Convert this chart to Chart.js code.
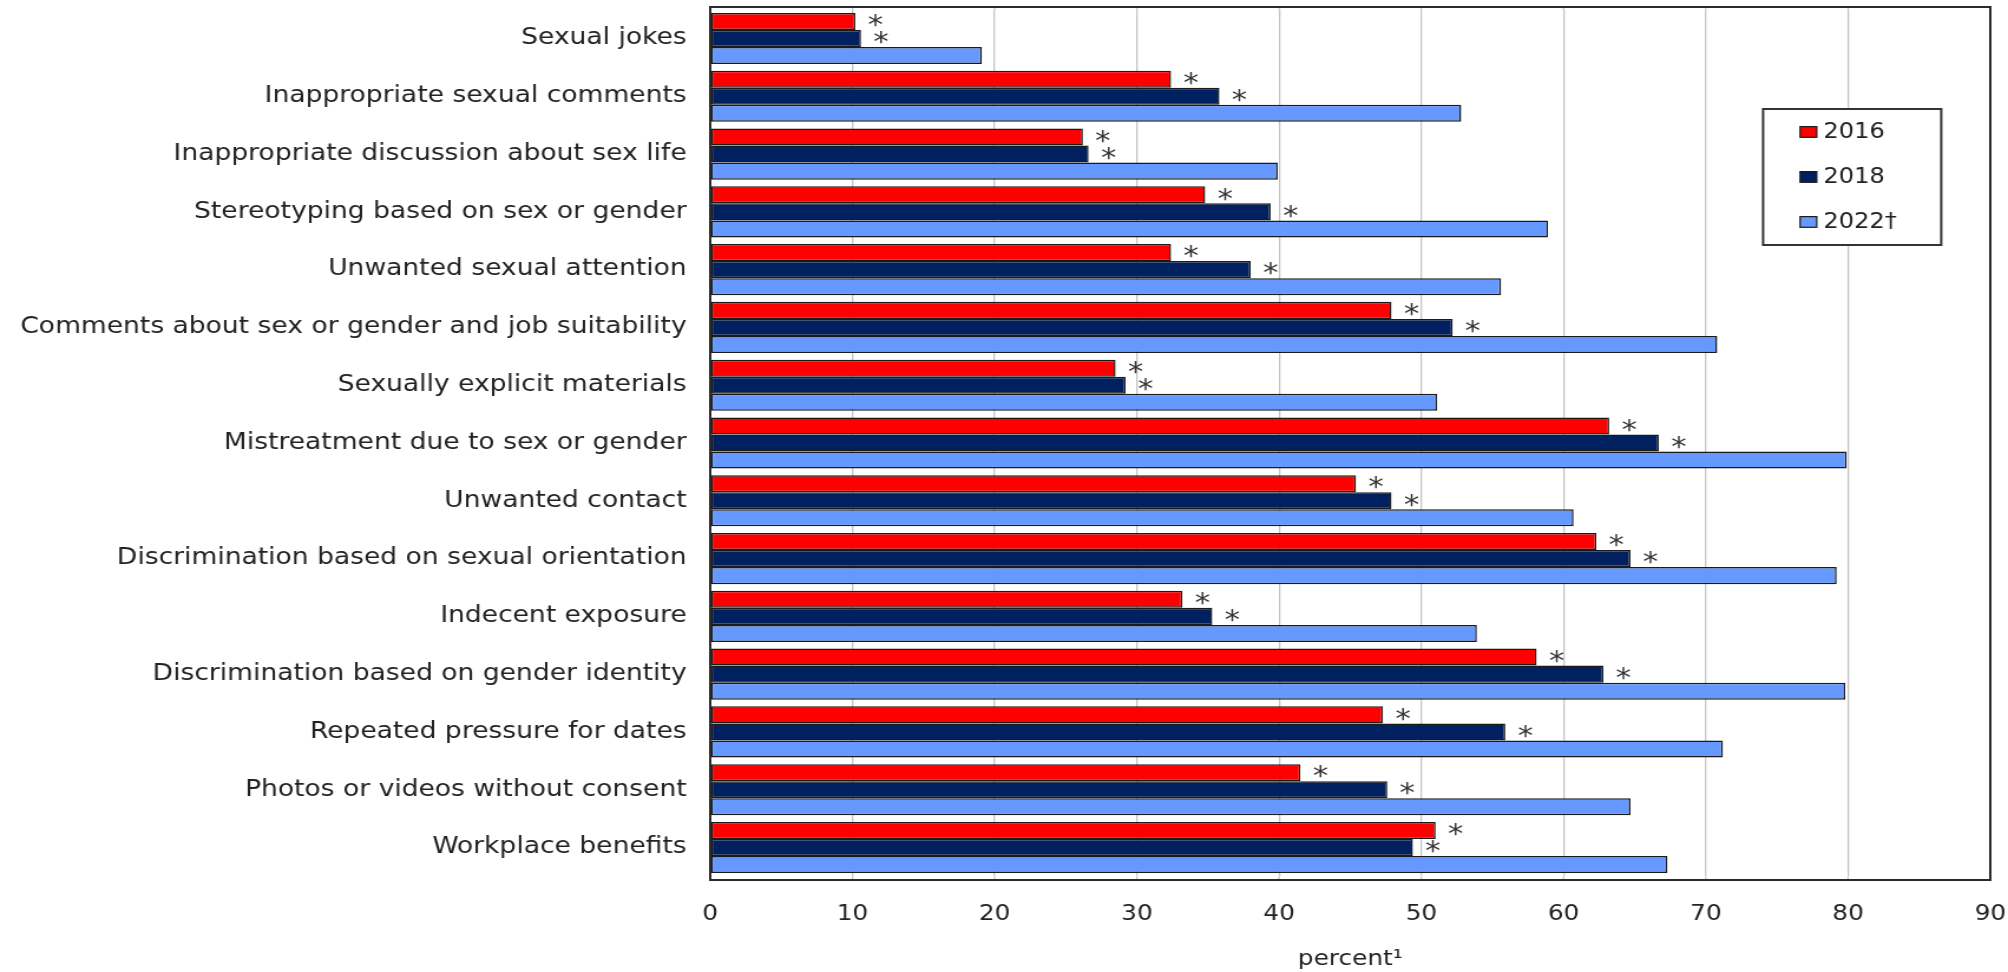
<!DOCTYPE html>
<html>
<head>
<meta charset="utf-8">
<script src="https://cdn.jsdelivr.net/npm/chart.js@4/dist/chart.umd.min.js"></script>
<style>
  html, body { margin: 0; padding: 0; background: #fff; overflow: hidden; }
  #wrap { width: 2008px; height: 972px; overflow: hidden; }
  /* the chart is laid out on a narrower canvas and widened to the page */
  #c { display: block; transform-origin: 0 0; transform: scaleX(1.17979); }
</style>
</head>
<body>
<div id="wrap"><canvas id="c" width="1702" height="972" style="width:1702px;height:972px"></canvas></div>
<script>
const categories = [
  'Sexual jokes',
  'Inappropriate sexual comments',
  'Inappropriate discussion about sex life',
  'Stereotyping based on sex or gender',
  'Unwanted sexual attention',
  'Comments about sex or gender and job suitability',
  'Sexually explicit materials',
  'Mistreatment due to sex or gender',
  'Unwanted contact',
  'Discrimination based on sexual orientation',
  'Indecent exposure',
  'Discrimination based on gender identity',
  'Repeated pressure for dates',
  'Photos or videos without consent',
  'Workplace benefits'
];

const values2016 = [10.2, 32.4, 26.2, 34.8, 32.4, 47.9, 28.5, 63.2, 45.4, 62.3, 33.2, 58.1, 47.3, 41.5, 51.0];
const values2018 = [10.6, 35.8, 26.6, 39.4, 38.0, 52.2, 29.2, 66.7, 47.9, 64.7, 35.3, 62.8, 55.9, 47.6, 49.4];
const values2022 = [19.1, 52.8, 39.9, 58.9, 55.6, 70.8, 51.1, 79.9, 60.7, 79.2, 53.9, 79.8, 71.2, 64.7, 67.3];

// significance markers (difference from 2022)
const sig2016 = ['*','*','*','*','*','*','*','*','*','*','*','*','*','*','*'];
const sig2018 = ['*','*','*','*','*','*','*','*','*','*','*','*','*','*','*'];

const seriesLabels = ['2016', '2018', '2022\u2020'];
const seriesColors = ['#ff0000', '#002060', '#6699ff'];
const xTickValues = [0, 10, 20, 30, 40, 50, 60, 70, 80, 90];
const xTitle = 'percent\u00b9';

const FONT = 'DejaVu Sans';
const INK = '#222222';

// frame around the plot and grid lines carried up to it
const framePlugin = {
  id: 'frame',
  beforeDatasetsDraw(chart) {
    const { ctx, chartArea: a, scales: { x } } = chart;
    ctx.save();
    ctx.strokeStyle = '#c4c4c4';
    ctx.lineWidth = 1.3;
    xTickValues.forEach(v => {
      const px = x.getPixelForValue(v);
      ctx.beginPath();
      ctx.moveTo(px, 7); ctx.lineTo(px, a.top);
      ctx.moveTo(px, a.bottom); ctx.lineTo(px, 880);
      ctx.stroke();
    });
    ctx.restore();
  },
  afterDraw(chart) {
    const { ctx, chartArea: a } = chart;
    ctx.save();
    ctx.strokeStyle = '#2b2b2b';
    ctx.lineWidth = 2;
    ctx.strokeRect(a.left, 7, a.right - a.left, 873);
    ctx.restore();
  }
};

// asterisks after the 2016 and 2018 bars
const sigPlugin = {
  id: 'sigMarks',
  afterDatasetsDraw(chart) {
    const { ctx } = chart;
    ctx.save();
    ctx.font = '26px "' + FONT + '"';
    ctx.fillStyle = '#333333';
    ctx.textAlign = 'center';
    ctx.textBaseline = 'middle';
    chart.data.datasets.forEach((ds, di) => {
      if (!ds.sig) return;
      chart.getDatasetMeta(di).data.forEach((bar, i) => {
        if (!ds.sig[i]) return;
        ctx.fillText(ds.sig[i], bar.x + 17, bar.y + 6);
      });
    });
    ctx.restore();
  }
};

// boxed legend inside the plot, top right
const legendBoxPlugin = {
  id: 'legendBox',
  afterDraw(chart) {
    const { ctx, chartArea: a } = chart;
    const w = 151, h = 136;
    const left = a.right - 41.6 - w, top = 109;
    ctx.save();
    ctx.fillStyle = '#ffffff';
    ctx.fillRect(left, top, w, h);
    ctx.strokeStyle = '#333333';
    ctx.lineWidth = 2;
    ctx.strokeRect(left, top, w, h);
    ctx.font = '20.5px "' + FONT + '"';
    ctx.textAlign = 'left';
    ctx.textBaseline = 'middle';
    chart.data.datasets.forEach((ds, i) => {
      const cy = top + 23 + i * 45;
      ctx.fillStyle = ds.backgroundColor;
      ctx.fillRect(left + 31.4, cy - 5.4, 14.1, 10.7);
      ctx.strokeStyle = '#1a1a1a';
      ctx.lineWidth = 1.2;
      ctx.strokeRect(left + 31.4, cy - 5.4, 14.1, 10.7);
      ctx.fillStyle = INK;
      ctx.fillText(ds.label, left + 51, cy + 1);
    });
    ctx.restore();
  }
};

const seriesValues = [values2016, values2018, values2022];
const seriesSig = [sig2016, sig2018, null];

new Chart(document.getElementById('c'), {
  type: 'bar',
  data: {
    labels: categories,
    datasets: seriesLabels.map((label, i) => ({
      label,
      data: seriesValues[i],
      sig: seriesSig[i],
      backgroundColor: seriesColors[i],
      borderColor: '#1a1a1a',
      borderWidth: 1.5,
      borderSkipped: false
    }))
  },
  options: {
    indexAxis: 'y',
    responsive: false,
    animation: false,
    devicePixelRatio: 1,
    layout: { padding: { top: 9.6, right: 15, left: 0, bottom: 0 } },
    datasets: { bar: { categoryPercentage: 0.885, barPercentage: 1 } },
    scales: {
      x: {
        min: 0,
        max: 90,
        afterBuildTicks(scale) { scale.ticks = xTickValues.map(v => ({ value: v })); },
        ticks: { font: { family: FONT, size: 21 }, color: INK, padding: 26 },
        grid: { color: '#c4c4c4', lineWidth: 1.3, drawTicks: false },
        border: { display: false },
        title: {
          display: true,
          text: xTitle,
          font: { family: FONT, size: 21 },
          color: INK,
          padding: { top: 0, bottom: 0 }
        },
        afterFit(scale) {
          scale.height = 95.6;
          scale.paddingLeft = 0;
          scale.paddingRight = 0;
        }
      },
      y: {
        ticks: { font: { family: FONT, size: 22.5 }, color: INK, padding: 20 },
        grid: { display: false, drawTicks: false },
        border: { display: false },
        afterFit(scale) {
          scale.width = 602;
          scale.paddingTop = 0;
          scale.paddingBottom = 0;
        }
      }
    },
    plugins: { legend: { display: false }, tooltip: { enabled: false } }
  },
  plugins: [framePlugin, sigPlugin, legendBoxPlugin]
});
</script>
</body>
</html>
